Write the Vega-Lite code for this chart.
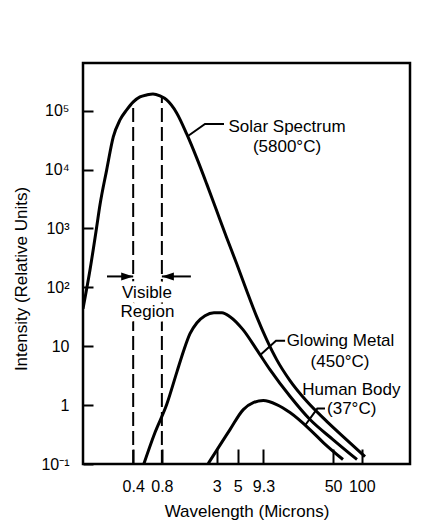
{
  "$schema": "https://vega.github.io/schema/vega-lite/v6.json",
  "width": 327,
  "height": 401,
  "autosize": {"type": "none"},
  "padding": {"left": 83, "top": 63, "right": 36, "bottom": 68},
  "background": "white",
  "config": {
    "view": {"stroke": "black", "strokeWidth": 2.5},
    "font": "Liberation Sans",
    "axis": {
      "grid": false,
      "domain": false,
      "tickColor": "black",
      "tickWidth": 2,
      "labelColor": "black",
      "labelFont": "Liberation Sans",
      "labelFontSize": 16,
      "titleColor": "black",
      "titleFont": "Liberation Sans",
      "titleFontSize": 17,
      "titleFontWeight": "normal"
    }
  },
  "datasets": {
    "curves": [
      {"series": "Solar Spectrum", "wavelength": 0.119, "intensity": 43.3},
      {"series": "Solar Spectrum", "wavelength": 0.141, "intensity": 198.6},
      {"series": "Solar Spectrum", "wavelength": 0.1657, "intensity": 1064},
      {"series": "Solar Spectrum", "wavelength": 0.1794, "intensity": 2513},
      {"series": "Solar Spectrum", "wavelength": 0.2109, "intensity": 9856},
      {"series": "Solar Spectrum", "wavelength": 0.2473, "intensity": 35750},
      {"series": "Solar Spectrum", "wavelength": 0.2908, "intensity": 69420},
      {"series": "Solar Spectrum", "wavelength": 0.3419, "intensity": 102600},
      {"series": "Solar Spectrum", "wavelength": 0.4011, "intensity": 140300},
      {"series": "Solar Spectrum", "wavelength": 0.4716, "intensity": 170500},
      {"series": "Solar Spectrum", "wavelength": 0.5544, "intensity": 184300},
      {"series": "Solar Spectrum", "wavelength": 0.6455, "intensity": 191700},
      {"series": "Solar Spectrum", "wavelength": 0.7646, "intensity": 177300},
      {"series": "Solar Spectrum", "wavelength": 0.8986, "intensity": 151600},
      {"series": "Solar Spectrum", "wavelength": 1.144, "intensity": 91270},
      {"series": "Solar Spectrum", "wavelength": 1.457, "intensity": 40210},
      {"series": "Solar Spectrum", "wavelength": 1.855, "intensity": 15750},
      {"series": "Solar Spectrum", "wavelength": 2.362, "intensity": 5705},
      {"series": "Solar Spectrum", "wavelength": 3.008, "intensity": 1989},
      {"series": "Solar Spectrum", "wavelength": 3.83, "intensity": 692.7},
      {"series": "Solar Spectrum", "wavelength": 4.877, "intensity": 250.9},
      {"series": "Solar Spectrum", "wavelength": 6.209, "intensity": 87.46},
      {"series": "Solar Spectrum", "wavelength": 7.905, "intensity": 31.7},
      {"series": "Solar Spectrum", "wavelength": 10.06, "intensity": 12.91},
      {"series": "Solar Spectrum", "wavelength": 12.81, "intensity": 5.911},
      {"series": "Solar Spectrum", "wavelength": 17.67, "intensity": 2.603},
      {"series": "Solar Spectrum", "wavelength": 26.65, "intensity": 1.147},
      {"series": "Solar Spectrum", "wavelength": 43.2, "intensity": 0.5253},
      {"series": "Solar Spectrum", "wavelength": 70.03, "intensity": 0.2551},
      {"series": "Solar Spectrum", "wavelength": 108.2, "intensity": 0.1339},
      {"series": "Glowing Metal", "wavelength": 0.5193, "intensity": 0.102},
      {"series": "Glowing Metal", "wavelength": 0.6776, "intensity": 0.3418},
      {"series": "Glowing Metal", "wavelength": 0.8986, "intensity": 1.02},
      {"series": "Glowing Metal", "wavelength": 1.153, "intensity": 3.7},
      {"series": "Glowing Metal", "wavelength": 1.365, "intensity": 8.735},
      {"series": "Glowing Metal", "wavelength": 1.578, "intensity": 16.32},
      {"series": "Glowing Metal", "wavelength": 1.868, "intensity": 25.07},
      {"series": "Glowing Metal", "wavelength": 2.268, "intensity": 32.95},
      {"series": "Glowing Metal", "wavelength": 2.818, "intensity": 37.04},
      {"series": "Glowing Metal", "wavelength": 3.419, "intensity": 37.04},
      {"series": "Glowing Metal", "wavelength": 4.147, "intensity": 31.7},
      {"series": "Glowing Metal", "wavelength": 5.678, "intensity": 19.08},
      {"series": "Glowing Metal", "wavelength": 7.905, "intensity": 8.735},
      {"series": "Glowing Metal", "wavelength": 10.9, "intensity": 4.0},
      {"series": "Glowing Metal", "wavelength": 17.67, "intensity": 1.411},
      {"series": "Glowing Metal", "wavelength": 28.65, "intensity": 0.5678},
      {"series": "Glowing Metal", "wavelength": 49.93, "intensity": 0.2602},
      {"series": "Glowing Metal", "wavelength": 89.17, "intensity": 0.1191},
      {"series": "Human Body", "wavelength": 2.455, "intensity": 0.102},
      {"series": "Human Body", "wavelength": 4.147, "intensity": 0.3843},
      {"series": "Human Body", "wavelength": 5.718, "intensity": 0.8391},
      {"series": "Human Body", "wavelength": 7.28, "intensity": 1.103},
      {"series": "Human Body", "wavelength": 9.27, "intensity": 1.192},
      {"series": "Human Body", "wavelength": 12.81, "intensity": 1.02},
      {"series": "Human Body", "wavelength": 17.67, "intensity": 0.7463},
      {"series": "Human Body", "wavelength": 28.65, "intensity": 0.3843},
      {"series": "Human Body", "wavelength": 39.51, "intensity": 0.2313},
      {"series": "Human Body", "wavelength": 63.6, "intensity": 0.1191}
    ],
    "leaders": [
      {"series": "Solar Spectrum", "wavelength": 1.503, "intensity": 37000},
      {"series": "Solar Spectrum", "wavelength": 2.268, "intensity": 59400},
      {"series": "Solar Spectrum", "wavelength": 3.588, "intensity": 59400},
      {"series": "Glowing Metal", "wavelength": 8.56, "intensity": 7.0},
      {"series": "Glowing Metal", "wavelength": 12.6, "intensity": 12.41},
      {"series": "Glowing Metal", "wavelength": 15.7, "intensity": 12.41},
      {"series": "Human Body", "wavelength": 25.39, "intensity": 0.45},
      {"series": "Human Body", "wavelength": 34.18, "intensity": 0.8725},
      {"series": "Human Body", "wavelength": 41.17, "intensity": 0.8725}
    ],
    "labels": [
      {"text": "Solar Spectrum", "wavelength": 16.44, "intensity": 53460, "group": "curve"},
      {"text": "(5800°C)", "wavelength": 16.44, "intensity": 24200, "group": "curve"},
      {"text": "Glowing Metal", "wavelength": 59.86, "intensity": 12.41, "group": "curve"},
      {"text": "(450°C)", "wavelength": 59.15, "intensity": 5.467, "group": "curve"},
      {"text": "Human Body", "wavelength": 77.9, "intensity": 1.832, "group": "curve"},
      {"text": "(37°C)", "wavelength": 78.5, "intensity": 0.8725, "group": "curve"},
      {"text": "Visible", "wavelength": 0.558, "intensity": 79.95, "group": "region"},
      {"text": "Region", "wavelength": 0.565, "intensity": 38.07, "group": "region"}
    ],
    "visible": [
      {"wavelength": 0.4, "intensity": 0.1, "intensity2": 139500},
      {"wavelength": 0.8, "intensity": 0.1, "intensity2": 169700}
    ],
    "arrows": [
      {"wavelength": 0.2125, "wavelength2": 0.4, "intensity": 152.9},
      {"wavelength": 1.612, "wavelength2": 0.8, "intensity": 152.9}
    ],
    "heads": [
      {"wavelength": 0.4, "intensity": 152.9, "points": "right"},
      {"wavelength": 0.8, "intensity": 152.9, "points": "left"}
    ]
  },
  "encoding": {
    "x": {
      "field": "wavelength",
      "type": "quantitative",
      "scale": {"type": "log", "domain": [0.119, 321], "nice": false, "zero": false},
      "axis": {
        "title": "Wavelength (Microns)",
        "values": [0.4, 0.8, 3, 5, 9.3, 50, 100],
        "format": "~g",
        "tickSize": -15,
        "labelPadding": 42.7,
        "labelBaseline": "alphabetic",
        "titleBaseline": "alphabetic",
        "titleY": 52
      }
    },
    "y": {
      "field": "intensity",
      "type": "quantitative",
      "scale": {"type": "log", "domain": [0.1, 643000], "nice": false, "zero": false},
      "axis": {
        "title": "Intensity (Relative Units)",
        "values": [0.1, 1, 10, 100, 1000, 10000, 100000],
        "labelExpr": "datum.value < 0.5 ? '10⁻¹' : datum.value < 5 ? '1' : datum.value < 50 ? '10' : datum.value < 500 ? '10²' : datum.value < 5000 ? '10³' : datum.value < 50000 ? '10⁴' : '10⁵'",
        "tickSize": -10,
        "labelPadding": 24,
        "labelAlign": "right",
        "labelBaseline": "middle",
        "titleX": -53,
        "titleY": 215.5,
        "titleAngle": -90,
        "titleBaseline": "bottom",
        "titleAlign": "center"
      }
    }
  },
  "layer": [
    {
      "data": {"name": "visible"},
      "mark": {"type": "rule", "color": "black", "strokeWidth": 2, "strokeDash": [14, 5]},
      "encoding": {"y2": {"field": "intensity2"}}
    },
    {
      "data": {"name": "curves"},
      "mark": {"type": "line", "color": "black", "strokeWidth": 3, "interpolate": "monotone", "clip": true},
      "encoding": {"detail": {"field": "series"}}
    },
    {
      "data": {"name": "leaders"},
      "mark": {"type": "line", "color": "black", "strokeWidth": 2},
      "encoding": {"detail": {"field": "series"}}
    },
    {
      "data": {"name": "arrows"},
      "mark": {"type": "rule", "color": "black", "strokeWidth": 2},
      "encoding": {"x2": {"field": "wavelength2"}}
    },
    {
      "data": {"name": "heads"},
      "mark": {"type": "point", "filled": true, "color": "black", "opacity": 1, "size": 576, "strokeWidth": 0},
      "encoding": {
        "shape": {
          "field": "points",
          "type": "nominal",
          "scale": {"domain": ["right", "left"], "range": ["M0,0L-1,-0.33L-1,0.33Z", "M0,0L1,-0.33L1,0.33Z"]},
          "legend": null
        }
      }
    },
    {
      "data": {"name": "labels"},
      "transform": [{"filter": "datum.group === 'region'"}],
      "mark": {"type": "text", "color": "white", "stroke": "white", "strokeWidth": 9, "strokeJoin": "round", "fontSize": 17, "font": "Liberation Sans", "align": "center", "baseline": "middle"},
      "encoding": {"text": {"field": "text"}}
    },
    {
      "data": {"name": "labels"},
      "mark": {"type": "text", "color": "black", "fontSize": 17, "font": "Liberation Sans", "align": "center", "baseline": "middle"},
      "encoding": {"text": {"field": "text"}}
    }
  ]
}
